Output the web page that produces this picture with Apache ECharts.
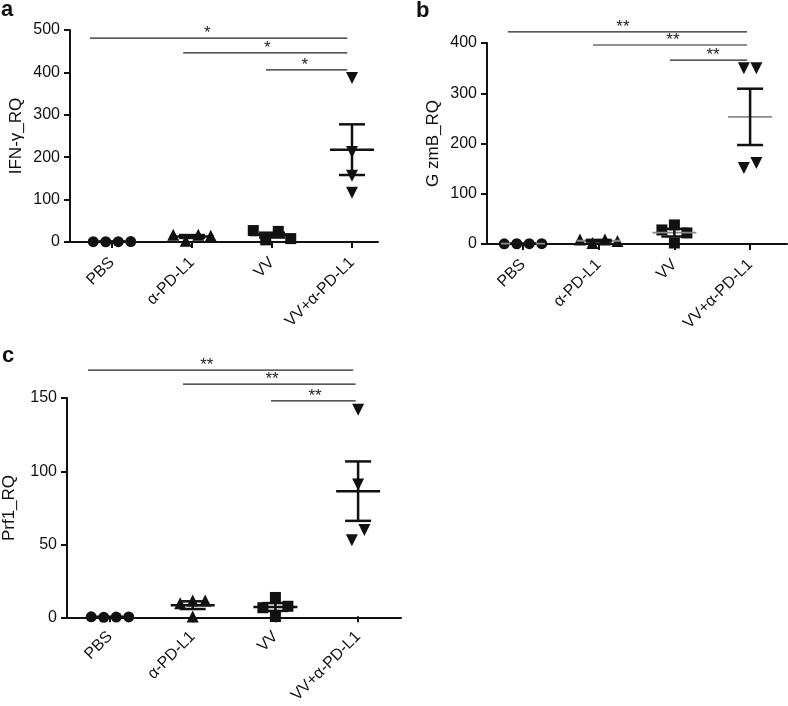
<!DOCTYPE html>
<html><head><meta charset="utf-8">
<script src="https://cdn.jsdelivr.net/npm/echarts@6/dist/echarts.min.js"></script>
<style>html,body{margin:0;padding:0;background:#fff}#chart{width:788px;height:706px}</style>
</head><body><div id="chart"></div>
<script>
// ---------------- DATA ----------------
const categories = ['PBS', 'α-PD-L1', 'VV', 'VV+α-PD-L1'];
const yTitles = ['IFN-γ_RQ', 'G zmB_RQ', 'Prf1_RQ'];
const panelLetters = ['a', 'b', 'c'];

// Panel a: IFN-γ
const ifnPBS = [0.8, 0.6, 1.0, 0.7];
const ifnAntiPDL1 = [17, 3, 15, 17];
const ifnVV = [25, 5, 8, 27];
const ifnCombo = [387, 212, 156, 116];
// Panel b: GzmB
const gzmPBS = [0.6, 0.5, 0.7, 0.4];
const gzmAntiPDL1 = [9, 2, 6, 9];
const gzmVV = [38, 2, 28, 22];
const gzmCombo = [350, 350, 161, 151];
// Panel c: Prf1
const prfPBS = [0.6, 0.5, 0.7, 0.8];
const prfAntiPDL1 = [12, 1, 10, 12];
const prfVV = [14, 1, 7, 8];
const prfCombo = [142, 91, 60, 53];

// Y axis ranges / ticks
const yMaxes = [500, 400, 150];
const yIntervals = [100, 100, 50];

// Significance brackets (x in category units, 1 = PBS ... 4 = VV+α-PD-L1)
const ifnSigFrom = [0.725, 1.89, 2.925];
const ifnSigTo = [3.94, 3.94, 3.94];
const ifnSigY = [481, 446, 406];
const ifnStarX = [2.19, 2.94, 3.41];
const ifnStars = ['*', '*', '*'];

const gzmSigFrom = [0.80, 1.925, 2.94];
const gzmSigTo = [3.96, 3.96, 3.96];
const gzmSigY = [422, 396, 366];
const gzmStarX = [2.32, 2.98, 3.51];
const gzmStars = ['**', '**', '**'];

const prfSigFrom = [0.734, 1.883, 2.947];
const prfSigTo = [3.94, 3.97, 3.97];
const prfSigY = [169, 159.5, 148];
const prfStarX = [2.17, 2.96, 3.48];
const prfStars = ['**', '**', '**'];

// ---------------- LAYOUT ----------------
const FONT = "'Liberation Sans', Arial, sans-serif";
const layout = [
  {axisLeft: 70, axisRight: 378, top: 30, zeroY: 242, c1: 112, sp: 80, lx: 1, ly: 21, meanColor: '#111', meanW: 2.5, nameGap: 45},
  {axisLeft: 487, axisRight: 787, top: 43, zeroY: 244, c1: 523, sp: 75.7, lx: 416, ly: 22, meanColor: '#8a8a8a', meanW: 1.8, nameGap: 45},
  {axisLeft: 67, axisRight: 401, top: 398, zeroY: 618, c1: 110, sp: 82.7, lx: 2, ly: 367, meanColor: '#111', meanW: 2.5, nameGap: 49}
];
const panels = [
  {groups: [ifnPBS, ifnAntiPDL1, ifnVV, ifnCombo], sig: [ifnSigFrom, ifnSigTo, ifnSigY, ifnStarX, ifnStars]},
  {groups: [gzmPBS, gzmAntiPDL1, gzmVV, gzmCombo], sig: [gzmSigFrom, gzmSigTo, gzmSigY, gzmStarX, gzmStars]},
  {groups: [prfPBS, prfAntiPDL1, prfVV, prfCombo], sig: [prfSigFrom, prfSigTo, prfSigY, prfStarX, prfStars]}
];
const symbols = ['circle', 'triangle', 'rect', 'triangle'];
const symbolRot = [0, 0, 0, 180];
const symbolSizes = [11, 12, 11, 12];

// column-scatter placement (avoid overlapping symbols)
function swarm(vals, pxPerY, symPx) {
  const placed = [];
  const cands = [0, -1, 1, -2, 2, -3, 3, -4, 4];
  vals.forEach(v => {
    for (const k of cands) {
      const ok = placed.every(p => Math.abs(p.k - k) >= 1 || Math.abs(p.v - v) * pxPerY >= symPx);
      if (ok) { placed.push({v, k}); break; }
    }
  });
  const n = placed.length, comp = new Array(n).fill(-1);
  let c = 0;
  for (let i = 0; i < n; i++) {
    if (comp[i] >= 0) continue;
    const st = [i]; comp[i] = c;
    while (st.length) {
      const a = st.pop();
      for (let j = 0; j < n; j++) {
        if (comp[j] < 0 && Math.abs(placed[a].v - placed[j].v) * pxPerY < symPx) { comp[j] = c; st.push(j); }
      }
    }
    c++;
  }
  for (let q = 0; q < c; q++) {
    const idx = placed.map((p, i) => i).filter(i => comp[i] === q);
    const m = idx.reduce((s, i) => s + placed[i].k, 0) / idx.length;
    idx.forEach(i => { placed[i].k -= m; });
  }
  return placed.map(p => p.k);
}
function meanSem(vals) {
  const n = vals.length, m = vals.reduce((a, b) => a + b, 0) / n;
  const sd = Math.sqrt(vals.reduce((a, b) => a + (b - m) * (b - m), 0) / (n - 1));
  return [m, sd / Math.sqrt(n)];
}

const grid = [], xAxis = [], yAxis = [], series = [], graphic = [];
layout.forEach((L, p) => {
  const height = L.zeroY - L.top;
  const xMin = 1 - (L.c1 - L.axisLeft) / L.sp;
  const xMax = 1 + (L.axisRight - L.c1) / L.sp;
  const gMain = 2 * p, gLab = 2 * p + 1;
  grid.push({left: L.axisLeft, top: L.top, width: L.axisRight - L.axisLeft, height: height, containLabel: false});
  grid.push({left: L.c1 - L.sp / 2, top: L.top, width: 4 * L.sp, height: height, containLabel: false});
  xAxis.push({type: 'value', gridIndex: gMain, min: xMin, max: xMax,
    axisLine: {show: true, onZero: false, lineStyle: {color: '#111', width: 2}},
    axisTick: {show: false}, axisLabel: {show: false}, splitLine: {show: false}});
  xAxis.push({type: 'category', gridIndex: gLab, data: categories, boundaryGap: true,
    axisLine: {show: false}, axisTick: {show: true, alignWithLabel: true, length: 6, lineStyle: {color: '#111', width: 2}},
    axisLabel: {rotate: 45, margin: 18, fontSize: 16, color: '#111', fontFamily: FONT, interval: 0},
    splitLine: {show: false}});
  yAxis.push({type: 'value', gridIndex: gMain, min: 0, max: yMaxes[p], interval: yIntervals[p],
    axisLine: {show: true, onZero: false, lineStyle: {color: '#111', width: 2}},
    axisTick: {show: true, length: 6, lineStyle: {color: '#111', width: 2}},
    axisLabel: {fontSize: 16, color: '#111', fontFamily: FONT, margin: 10},
    splitLine: {show: false},
    name: yTitles[p], nameLocation: 'middle', nameRotate: 90, nameGap: L.nameGap,
    nameTextStyle: {fontSize: 17, color: '#111', fontFamily: FONT}});
  yAxis.push({type: 'value', gridIndex: gLab, min: 0, max: yMaxes[p], show: false});

  const pxPerY = height / yMaxes[p];
  const P = panels[p];
  P.groups.forEach((vals, gi) => {
    const offs = swarm(vals, pxPerY, 11);
    series.push({type: 'scatter', xAxisIndex: gMain, yAxisIndex: gMain,
      symbol: symbols[gi], symbolRotate: symbolRot[gi], symbolSize: symbolSizes[gi],
      itemStyle: {color: '#111', opacity: 1}, z: 3, silent: true,
      data: vals.map((v, i) => [gi + 1 + offs[i] * 12.5 / L.sp, v])});
  });
  const ebData = P.groups.map((vals, gi) => [gi + 1].concat(meanSem(vals)));
  series.push({type: 'custom', xAxisIndex: gMain, yAxisIndex: gMain, z: 4, silent: true, clip: false,
    encode: {x: 0, y: 1}, data: ebData,
    renderItem: (params, api) => {
      const x = api.value(0), m = api.value(1), s = api.value(2);
      const c = api.coord([x, m]), t = api.coord([x, m + s]), b = api.coord([x, Math.max(0, m - s)]);
      return {type: 'group', children: [
        {type: 'line', shape: {x1: c[0] - 22, y1: c[1], x2: c[0] + 22, y2: c[1]}, style: {stroke: L.meanColor, lineWidth: L.meanW}},
        {type: 'line', shape: {x1: c[0], y1: t[1], x2: c[0], y2: b[1]}, style: {stroke: '#111', lineWidth: 2.5}},
        {type: 'line', shape: {x1: c[0] - 13, y1: t[1], x2: c[0] + 13, y2: t[1]}, style: {stroke: '#111', lineWidth: 2.5}},
        {type: 'line', shape: {x1: c[0] - 13, y1: b[1], x2: c[0] + 13, y2: b[1]}, style: {stroke: '#111', lineWidth: 2.5}}
      ]};
    }});
  const [sf, stt, sy, sx, sl] = P.sig;
  series.push({type: 'custom', xAxisIndex: gMain, yAxisIndex: gMain, z: 5, silent: true, clip: false,
    encode: {x: 0, y: 2}, data: sf.map((f, i) => [f, stt[i], sy[i], sx[i]]),
    renderItem: (params, api) => {
      const a = api.coord([api.value(0), api.value(2)]);
      const b = api.coord([api.value(1), api.value(2)]);
      const s = api.coord([api.value(3), api.value(2)]);
      return {type: 'group', children: [
        {type: 'line', shape: {x1: a[0], y1: a[1], x2: b[0], y2: b[1]}, style: {stroke: '#222', lineWidth: 1.2}},
        {type: 'text', style: {text: sl[params.dataIndex], x: s[0], y: a[1] + 4, align: 'center', verticalAlign: 'bottom',
          font: '17px ' + FONT, fill: '#222'}}
      ]};
    }});
  graphic.push({type: 'text', x: L.lx, y: L.ly, style: {text: panelLetters[p], font: 'bold 22px ' + FONT, fill: '#111', verticalAlign: 'bottom'}});
});

const chart = echarts.init(document.getElementById('chart'), null, {renderer: 'canvas'});
chart.setOption({animation: false, backgroundColor: '#fff', grid, xAxis, yAxis, series, graphic});
</script></body></html>
